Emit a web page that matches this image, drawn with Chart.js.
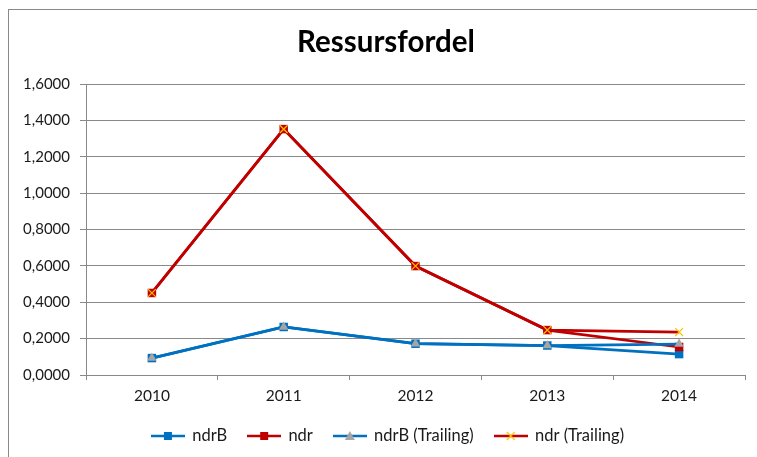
<!DOCTYPE html>
<html>
<head>
<meta charset="utf-8">
<script src="https://cdn.jsdelivr.net/npm/chart.js@4/dist/chart.umd.min.js"></script>
<style>
  html, body { margin: 0; padding: 0; background: #fff; }
  #wrap { position: relative; width: 757px; height: 457px; overflow: hidden; }
  #frame { position: absolute; left: 8px; top: 9px; width: 800px; height: 500px;
           border-left: 1px solid #898989; border-top: 1px solid #898989; }
  canvas { position: absolute; left: 0; top: 0; }
</style>
</head>
<body>
<div id="wrap">
  <div id="frame"></div>
  <canvas id="chart" width="757" height="457"></canvas>
</div>
<script>
// ===== DATA =====
const years = ['2010', '2011', '2012', '2013', '2014'];
const ndrB = [0.093, 0.264, 0.172, 0.162, 0.115];
const ndr = [0.451, 1.352, 0.599, 0.247, 0.154];
const ndrBTrailing = [0.093, 0.264, 0.172, 0.162, 0.170];
const ndrTrailing = [0.451, 1.352, 0.599, 0.247, 0.236];

// ===== COLORS =====
const COLORS = {
  blue: '#0070C0',
  red: '#C00000',
  grey: '#A5A5A5',
  yellow: '#FFC000',
  grid: '#898989',
  text: '#1a1a1a',
};

const FONT = 'Lato';

// legend symbol: short line with the marker in the middle
function legendIcon(lineColor, marker, markerColor) {
  const c = document.createElement('canvas');
  c.width = 34;
  c.height = 12;
  const g = c.getContext('2d');
  g.strokeStyle = lineColor;
  g.lineWidth = 2.5;
  g.beginPath();
  g.moveTo(0, 6);
  g.lineTo(34, 6);
  g.stroke();
  if (marker === 'rect') {
    g.fillStyle = markerColor;
    g.fillRect(13, 2, 8, 8);
  } else if (marker === 'triangle') {
    g.fillStyle = markerColor;
    g.beginPath();
    g.moveTo(17, 1);
    g.lineTo(22, 10);
    g.lineTo(12, 10);
    g.closePath();
    g.fill();
  } else {
    g.strokeStyle = markerColor;
    g.lineWidth = 1.2;
    g.beginPath();
    g.moveTo(13, 2); g.lineTo(21, 10);
    g.moveTo(21, 2); g.lineTo(13, 10);
    g.stroke();
  }
  return c;
}

const icons = [
  legendIcon(COLORS.blue, 'rect', COLORS.blue),
  legendIcon(COLORS.red, 'rect', COLORS.red),
  legendIcon(COLORS.blue, 'triangle', COLORS.grey),
  legendIcon(COLORS.red, 'cross', COLORS.yellow),
];

// title and legend sit centred on the outer frame, not on the plot box
const shiftBoxes = {
  id: 'shiftBoxes',
  afterLayout(chart) {
    if (chart.titleBlock) chart.titleBlock.left += 27;
    if (chart.legend) chart.legend.left += 31;
  },
};

const ctx = document.getElementById('chart');

new Chart(ctx, {
  type: 'line',
  data: {
    labels: years,
    datasets: [
      {
        label: 'ndrB',
        data: ndrB,
        borderColor: COLORS.blue,
        backgroundColor: COLORS.blue,
        borderWidth: 2.75,
        pointStyle: 'rect',
        pointRadius: 6,
        pointBorderWidth: 0,
        order: 3,
      },
      {
        label: 'ndr',
        data: ndr,
        borderColor: COLORS.red,
        backgroundColor: COLORS.red,
        borderWidth: 2.75,
        pointStyle: 'rect',
        pointRadius: 6,
        pointBorderWidth: 0,
        order: 2,
      },
      {
        label: 'ndrB (Trailing)',
        data: ndrBTrailing,
        borderColor: COLORS.blue,
        backgroundColor: COLORS.grey,
        borderWidth: 2.75,
        pointStyle: 'triangle',
        pointRadius: 5.5,
        pointBorderWidth: 0,
        order: 1,
      },
      {
        label: 'ndr (Trailing)',
        data: ndrTrailing,
        borderColor: COLORS.red,
        backgroundColor: COLORS.yellow,
        borderWidth: 2.75,
        pointStyle: 'crossRot',
        pointRadius: 5.5,
        pointBorderColor: COLORS.yellow,
        pointBorderWidth: 1.2,
        order: 0,
      },
    ],
  },
  options: {
    responsive: false,
    animation: false,
    layout: { padding: { left: 0, right: 12, top: 0, bottom: 2.75 } },
    plugins: {
      title: {
        display: true,
        text: 'Ressursfordel',
        color: '#000',
        font: { family: FONT, size: 29.5, weight: 'bold' },
        padding: { top: 25, bottom: 23.6 },
      },
      legend: {
        position: 'bottom',
        labels: {
          color: COLORS.text,
          font: { family: FONT, size: 16.5 },
          usePointStyle: true,
          pointStyleWidth: 32,
          boxHeight: 13,
          padding: 21,
          generateLabels: (chart) =>
            chart.data.datasets.map((d, i) => ({
              text: d.label,
              pointStyle: icons[i],
              fillStyle: 'transparent',
              strokeStyle: 'transparent',
              lineWidth: 0,
              fontColor: COLORS.text,
              datasetIndex: i,
              hidden: false,
            })),
        },
      },
      tooltip: { enabled: false },
    },
    scales: {
      x: {
        offset: true,
        grid: {
          offset: true,
          drawOnChartArea: false,
          color: COLORS.grid,
          tickLength: 5,
        },
        border: { color: COLORS.grid, width: 1 },
        ticks: { color: COLORS.text, font: { family: FONT, size: 15.5 }, padding: 7 },
        afterFit: (s) => { s.height = 31.75; },
      },
      y: {
        min: 0,
        max: 1.6,
        ticks: {
          stepSize: 0.2,
          color: COLORS.text,
          font: { family: FONT, size: 15 },
          padding: 10,
          callback: (v) => v.toFixed(4).replace('.', ','),
        },
        grid: { color: COLORS.grid, tickLength: 6 },
        border: { color: COLORS.grid, width: 1 },
        afterFit: (s) => { s.width = 86; },
      },
    },
  },
  plugins: [shiftBoxes],
});
</script>
</body>
</html>
